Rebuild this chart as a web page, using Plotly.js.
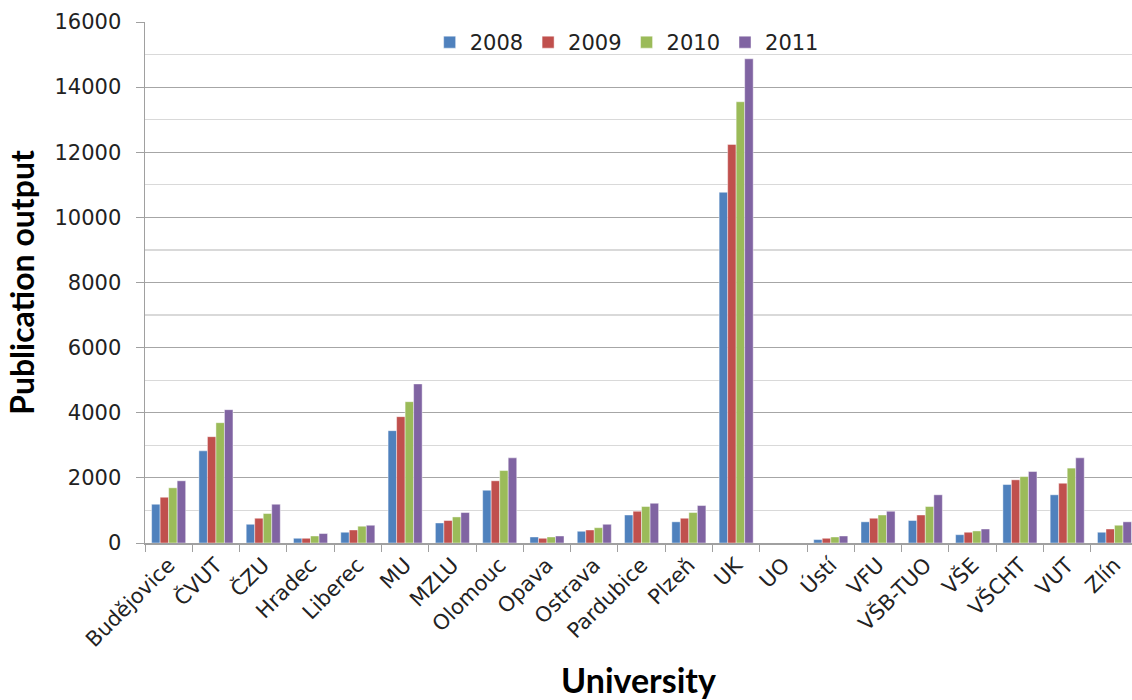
<!DOCTYPE html>
<html>
<head>
<meta charset="utf-8">
<script src="https://cdn.plot.ly/plotly-3.0.1.min.js"></script>
<style>html,body{margin:0;padding:0;background:#fff;}#chart{width:1132px;height:700px;}</style>
</head>
<body>
<div id="chart"></div>
<script>
const universities = ["Budějovice","ČVUT","ČZU","Hradec","Liberec","MU","MZLU","Olomouc","Opava","Ostrava","Pardubice","Plzeň","UK","UO","Ústí","VFU","VŠB-TUO","VŠE","VŠCHT","VUT","Zlín"];
const years = ["2008","2009","2010","2011"];
const v2008 = [1190,2830,575,145,330,3450,615,1620,185,360,860,650,10770,0,105,650,690,255,1795,1480,330];
const v2009 = [1405,3265,760,145,400,3880,690,1910,145,400,975,760,12240,0,145,760,860,330,1940,1835,430];
const v2010 = [1695,3695,905,215,515,4340,800,2225,185,470,1120,935,13550,0,185,860,1120,370,2040,2300,545];
const v2011 = [1910,4095,1190,290,545,4885,935,2615,215,575,1220,1150,14870,0,215,975,1480,430,2195,2615,650];
const colors = ["#4F81BD","#C0504D","#9BBB59","#8064A2"];
const series = [v2008, v2009, v2010, v2011];

const traces = series.map((vals, i) => ({
  type: "bar",
  name: years[i],
  x: universities,
  y: vals,
  marker: {color: colors[i], line: {color: "rgba(255,255,255,0.55)", width: 0.8}},
  hoverinfo: "x+y+name"
}));

const layout = {
  width: 1132,
  height: 700,
  margin: {l: 145, r: 0, t: 22, b: 157},
  paper_bgcolor: "#fff",
  plot_bgcolor: "#fff",
  barmode: "group",
  bargap: 0.28,
  bargroupgap: 0,
  font: {family: "DejaVu Sans, Verdana, sans-serif", color: "#222"},
  showlegend: true,
  legend: {
    orientation: "h",
    x: 0.488, xanchor: "center",
    y: 1.0, yanchor: "top",
    font: {size: 21, family: "DejaVu Sans, Verdana, sans-serif", color: "#222"},
    itemwidth: 30,
    bgcolor: "rgba(255,255,255,0)",
    traceorder: "normal"
  },
  xaxis: {
    type: "category",
    range: [-0.5, 20.37],
    showline: true,
    linecolor: "#a0a0a0",
    linewidth: 1.5,
    ticks: "outside",
    tickson: "boundaries",
    ticklen: 7,
    tickcolor: "#a0a0a0",
    tickangle: -45,
    tickfont: {size: 21, family: "DejaVu Sans, Verdana, sans-serif", color: "#222"},
    showgrid: false,
    title: {text: "University", font: {size: 34, family: "Lato, Open Sans, sans-serif", color: "#000", weight: "bold"}, standoff: 18}
  },
  yaxis: {
    range: [0, 16000],
    dtick: 2000,
    tickformat: "d",
    showline: true,
    linecolor: "#a0a0a0",
    linewidth: 1.5,
    ticks: "outside",
    ticklen: 8,
    tickcolor: "#a0a0a0",
    ticklabelstandoff: 10,
    tickfont: {size: 21, family: "DejaVu Sans, Verdana, sans-serif", color: "#222"},
    showgrid: true,
    gridcolor: "#a6a6a6",
    gridwidth: 1.2,
    zeroline: false,
    minor: {dtick: 1000, showgrid: true, gridcolor: "#d9d9d9", gridwidth: 1.2, ticks: ""},
    title: {text: "Publication output", font: {size: 32, family: "Lato, Open Sans, sans-serif", color: "#000", weight: "bold"}, standoff: 10}
  }
};

Plotly.newPlot("chart", traces, layout, {displayModeBar: false, staticPlot: true});
</script>
</body>
</html>
